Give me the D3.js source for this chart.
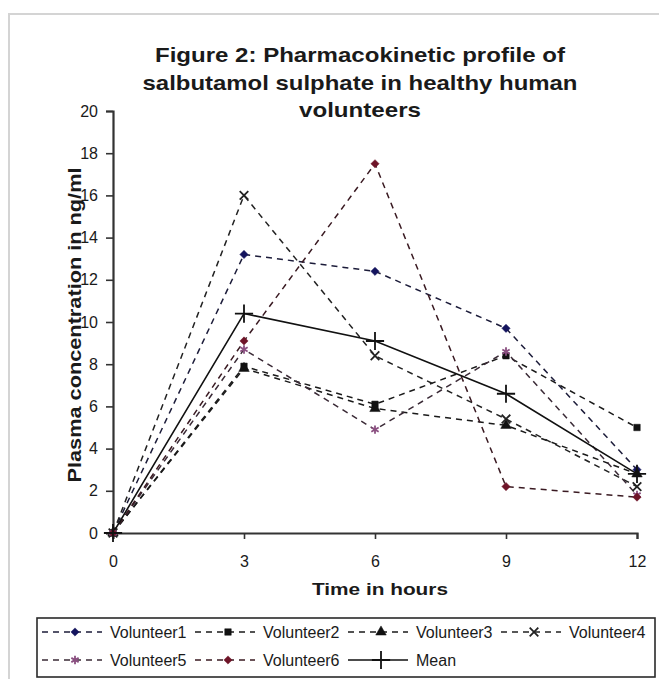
<!DOCTYPE html>
<html>
<head>
<meta charset="utf-8">
<script src="https://cdn.jsdelivr.net/npm/d3@7"></script>
<style>
  body { margin: 0; background: #fff; }
  text { font-family: "Liberation Sans", Arial, sans-serif; fill: #1a1a1a; }
</style>
</head>
<body>
<svg id="chart" width="659" height="679"></svg>
<script>
// values (ng/ml at each sampling hour)
const hours = [0, 3, 6, 9, 12];
const volunteer1 = [0, 13.2, 12.4, 9.7, 3.0];
const volunteer2 = [0, 7.9, 6.1, 8.4, 5.0];
const volunteer3 = [0, 7.8, 5.9, 5.1, 2.8];
const volunteer4 = [0, 16.0, 8.4, 5.4, 2.2];
const volunteer5 = [0, 8.7, 4.9, 8.6, 1.8];
const volunteer6 = [0, 9.1, 17.5, 2.2, 1.7];
const meanConc = [0, 10.4, 9.1, 6.6, 2.8];
const seriesNames = ['Volunteer1', 'Volunteer2', 'Volunteer3', 'Volunteer4', 'Volunteer5', 'Volunteer6', 'Mean'];
const xTicks = [0, 3, 6, 9, 12];
const yTicks = [0, 2, 4, 6, 8, 10, 12, 14, 16, 18, 20];
const titleLines = ['Figure 2: Pharmacokinetic profile of', 'salbutamol sulphate in healthy human', 'volunteers'];

const svg = d3.select('#chart');

// faint chart-area edge, like the scanned original
svg.append('path')
  .attr('d', 'M9,679 V14 H659')
  .attr('fill', 'none')
  .attr('stroke', '#d4d4d4')
  .attr('stroke-width', 2);

const x = d3.scaleLinear().domain([0, 12]).range([113, 637]);
const y = d3.scaleLinear().domain([0, 20]).range([533, 111]);

// title
const titleW = [410, 435, 122];
svg.append('g')
  .selectAll('text')
  .data(titleLines)
  .join('text')
  .attr('x', 360)
  .attr('y', (d, i) => 62 + 27.5 * i)
  .attr('text-anchor', 'middle')
  .attr('font-size', 21)
  .attr('font-weight', 'bold')
  .attr('textLength', (d, i) => titleW[i])
  .attr('lengthAdjust', 'spacingAndGlyphs')
  .text((d) => d);

// axes
const yAxis = svg.append('g')
  .attr('transform', `translate(${x(0)},0)`)
  .call(d3.axisLeft(y).tickValues(yTicks).tickSize(7).tickPadding(8));
const xAxis = svg.append('g')
  .attr('transform', `translate(0,${y(0)})`)
  .call(d3.axisBottom(x).tickValues(xTicks).tickSize(6).tickPadding(17));

[yAxis, xAxis].forEach((ax) => {
  ax.select('.domain').attr('stroke', '#333').attr('stroke-width', 2.2);
  ax.selectAll('.tick line').attr('stroke', '#333').attr('stroke-width', 1.6);
  ax.selectAll('.tick text')
    .attr('font-size', 16)
    .attr('font-family', '"Liberation Sans", Arial, sans-serif')
    .attr('fill', '#222');
});
xAxis.select('.tick line').remove();

svg.append('text')
  .attr('x', 380)
  .attr('y', 595)
  .attr('text-anchor', 'middle')
  .attr('font-size', 17)
  .attr('font-weight', 'bold')
  .attr('textLength', 136)
  .attr('lengthAdjust', 'spacingAndGlyphs')
  .text('Time in hours');

svg.append('text')
  .attr('transform', 'translate(81,325) rotate(-90)')
  .attr('text-anchor', 'middle')
  .attr('font-size', 18)
  .attr('font-weight', 'bold')
  .attr('textLength', 315)
  .attr('lengthAdjust', 'spacingAndGlyphs')
  .text('Plasma concentration in ng/ml');

// series styling
const allValues = [volunteer1, volunteer2, volunteer3, volunteer4, volunteer5, volunteer6, meanConc];
const lineColor = ['#1c1c3a', '#1a1a1a', '#1a1a1a', '#222', '#3a2a36', '#3a1a22', '#111'];
const markColor = ['#14145e', '#111', '#111', '#222', '#8a4f80', '#6e1428', '#111'];
const markers = [
  { type: d3.symbolSquare, size: 34, rot: 45, fill: true },
  { type: d3.symbolSquare, size: 42, rot: 0, fill: true },
  { type: d3.symbolTriangle, size: 48, rot: 0, fill: true },
  { type: d3.symbolTimes, size: 50, rot: 0, fill: false },
  { type: d3.symbolAsterisk, size: 50, rot: 0, fill: false },
  { type: d3.symbolSquare, size: 34, rot: 45, fill: true },
  { type: d3.symbolPlus, size: 110, rot: 0, fill: false },
];

const series = seriesNames.map((name, i) => ({
  name,
  idx: i,
  points: hours.map((h, j) => ({ h, v: allValues[i][j] })),
}));

const line = d3.line().x((d) => x(d.h)).y((d) => y(d.v));

const plot = svg.append('g');
plot.selectAll('path.series')
  .data(series)
  .join('path')
  .attr('class', 'series')
  .attr('d', (d) => line(d.points))
  .attr('fill', 'none')
  .attr('stroke', (d) => lineColor[d.idx])
  .attr('stroke-width', (d) => (d.idx === 6 ? 1.6 : 1.5))
  .attr('stroke-dasharray', (d) => (d.idx === 6 ? null : '6,5'));

function drawMarker(sel, i) {
  const m = markers[i];
  sel.append('path')
    .attr('d', d3.symbol().type(m.type).size(m.size))
    .attr('transform', `rotate(${m.rot})`)
    .attr('fill', m.fill ? markColor[i] : 'none')
    .attr('stroke', markColor[i])
    .attr('stroke-width', m.fill ? 0.5 : 1.8);
}

series.forEach((s) => {
  plot.append('g')
    .selectAll('g')
    .data(s.points)
    .join('g')
    .attr('transform', (d) => `translate(${x(d.h)},${y(d.v)})`)
    .each(function () { drawMarker(d3.select(this), s.idx); });
});

// legend
svg.append('rect')
  .attr('x', 37)
  .attr('y', 618)
  .attr('width', 618)
  .attr('height', 59)
  .attr('fill', '#fff')
  .attr('stroke', '#2a2a2a')
  .attr('stroke-width', 1.6);

const legend = svg.append('g')
  .selectAll('g')
  .data(series)
  .join('g')
  .attr('transform', (d) => {
    const col = d.idx < 4 ? d.idx : d.idx - 4;
    const row = d.idx < 4 ? 0 : 1;
    return `translate(${75 + 153 * col},${632 + 28 * row})`;
  });

legend.append('line')
  .attr('x1', -33)
  .attr('x2', 27)
  .attr('stroke', (d) => lineColor[d.idx])
  .attr('stroke-width', 1.5)
  .attr('stroke-dasharray', (d) => (d.idx === 6 ? null : '6,5'));

legend.each(function (d) { drawMarker(d3.select(this), d.idx); });

legend.append('text')
  .attr('x', 35)
  .attr('y', 5.5)
  .attr('font-size', 16)
  .text((d) => d.name);
</script>
</body>
</html>
